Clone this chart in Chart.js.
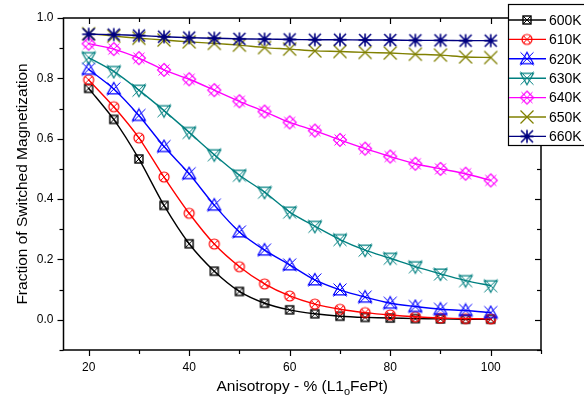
<!DOCTYPE html>
<html><head><meta charset="utf-8">
<script src="https://cdn.jsdelivr.net/npm/chart.js@4/dist/chart.umd.min.js"></script>
<style>html,body{margin:0;padding:0;background:#fff;}canvas{display:block;}</style>
</head><body>
<canvas id="c" width="584" height="405"></canvas>
<script>
const anisotropy = [20,25,30,35,40,45,50,55,60,65,70,75,80,85,90,95,100];
const s600K = [0.767,0.664,0.533,0.379,0.252,0.161,0.094,0.055,0.033,0.020,0.012,0.008,0.006,0.004,0.003,0.002,0.002];
const s610K = [0.795,0.706,0.603,0.473,0.353,0.251,0.176,0.119,0.079,0.052,0.035,0.024,0.016,0.010,0.006,0.004,0.003];
const s620K = [0.830,0.765,0.677,0.574,0.484,0.380,0.291,0.231,0.182,0.132,0.099,0.075,0.055,0.044,0.035,0.031,0.024];
const s630K = [0.869,0.823,0.761,0.693,0.621,0.547,0.479,0.423,0.357,0.310,0.266,0.231,0.204,0.176,0.152,0.130,0.113];
const s640K = [0.915,0.897,0.867,0.828,0.797,0.761,0.724,0.690,0.654,0.627,0.596,0.567,0.541,0.517,0.500,0.484,0.462];
const s650K = [0.948,0.940,0.933,0.927,0.921,0.916,0.910,0.902,0.897,0.891,0.889,0.886,0.884,0.880,0.877,0.871,0.869];
const s660K = [0.946,0.945,0.942,0.938,0.935,0.933,0.931,0.930,0.929,0.928,0.928,0.927,0.927,0.926,0.926,0.925,0.925];
const seriesLabels = ['600K','610K','620K','630K','640K','650K','660K'];
const seriesData = [s600K,s610K,s620K,s630K,s640K,s650K,s660K];
const xTicks = [20,30,40,50,60,70,80,90,100,110];
const yTicks = [-0.1,0,0.1,0.2,0.3,0.4,0.5,0.6,0.7,0.8,0.9,1.0];
const xTitleMain = 'Anisotropy - % (L1';
const xTitleSub = 'o';
const xTitleEnd = 'FePt)';
const yTitle = 'Fraction of Switched Magnetization';

const colors = ['#000000','#ff0000','#0000ff','#008080','#ff00ff','#808000','#000080'];
const shapes = ['squareX','circleX','triUpX','triDownX','diamondX','x','star'];
const FONT = '"Liberation Sans", Arial, Helvetica, sans-serif';

function makeMarker(shape, color){
  const S = 16, c = S/2;
  const cv = document.createElement('canvas');
  cv.width = S; cv.height = S;
  const g = cv.getContext('2d');
  g.strokeStyle = color; g.lineWidth = 1.2; g.lineJoin='miter';
  const line=(x1,y1,x2,y2)=>{g.beginPath();g.moveTo(x1,y1);g.lineTo(x2,y2);g.stroke();};
  if(shape==='squareX'){
    g.lineWidth=1.4;
    g.strokeRect(c-4,c-4,8,8);
    g.lineWidth=1;
    line(c-4,c-4,c+4,c+4); line(c+4,c-4,c-4,c+4);
  } else if(shape==='circleX'){
    g.beginPath(); g.arc(c,c,5,0,Math.PI*2); g.stroke();
    g.lineWidth=1;
    line(c-3.6,c-3.6,c+3.6,c+3.6); line(c+3.6,c-3.6,c-3.6,c+3.6);
  } else if(shape==='triUpX' || shape==='triDownX'){
    const h=6.5, d = shape==='triUpX'?1:-1;
    g.beginPath(); g.moveTo(c,c-d*h); g.lineTo(c+h,c+d*h*0.75); g.lineTo(c-h,c+d*h*0.75); g.closePath(); g.stroke();
    g.lineWidth=1;
    line(c-h,c-h,c+h,c+h); line(c+h,c-h,c-h,c+h);
  } else if(shape==='diamondX'){
    const h=6.5;
    g.beginPath(); g.moveTo(c,c-h); g.lineTo(c+h,c); g.lineTo(c,c+h); g.lineTo(c-h,c); g.closePath(); g.stroke();
    g.lineWidth=1;
    line(c-5.5,c-5.5,c+5.5,c+5.5); line(c+5.5,c-5.5,c-5.5,c+5.5);
  } else if(shape==='x'){
    g.lineWidth=1.3;
    line(c-6.5,c-6.5,c+6.5,c+6.5); line(c+6.5,c-6.5,c-6.5,c+6.5);
  } else if(shape==='star'){
    g.lineWidth=1.6;
    line(c-6,c-6,c+6,c+6); line(c+6,c-6,c-6,c+6);
    line(c,c-6.5,c,c+6.5); line(c-6.5,c,c+6.5,c);
    g.fillStyle=color; g.beginPath(); g.arc(c,c,2.5,0,Math.PI*2); g.fill();
  }
  return cv;
}
const markers = shapes.map((s,i)=>makeMarker(s,colors[i]));

const datasets = seriesLabels.map((lab,i)=>({
  label: lab,
  data: anisotropy.map((x,j)=>({x:x, y:seriesData[i][j]})),
  borderColor: colors[i],
  backgroundColor: colors[i],
  borderWidth: 1.4,
  pointStyle: markers[i],
  pointRadius: 6,
  tension: 0.25,
  order: 6-i,
  clip: false
}));

function isMajorX(v){return v%20===0 && v<=100;}
function isMajorY(v){const k=Math.round(v*10); return k>=0 && k%2===0;}

const framePlugin = {
  id:'frame',
  afterDatasetsDraw(chart){
    const ctx=chart.ctx, a=chart.chartArea, xs=chart.scales.x, ys=chart.scales.y;
    ctx.save();
    ctx.strokeStyle='#000'; ctx.lineWidth=1.5;
    ctx.strokeRect(a.left,a.top,a.right-a.left,a.bottom-a.top);
    ctx.lineWidth=1.2;
    xTicks.forEach(v=>{
      const px=Math.round(xs.getPixelForValue(v))+0.5;
      const L=isMajorX(v)?6:4;
      ctx.beginPath(); ctx.moveTo(px,a.bottom); ctx.lineTo(px,a.bottom+L); ctx.stroke();
      ctx.beginPath(); ctx.moveTo(px,a.top); ctx.lineTo(px,a.top+L); ctx.stroke();
    });
    yTicks.forEach(v=>{
      const py=Math.round(ys.getPixelForValue(v))+0.5;
      const L=isMajorY(v)?6:4;
      ctx.beginPath(); ctx.moveTo(a.left,py); ctx.lineTo(a.left-L,py); ctx.stroke();
      ctx.beginPath(); ctx.moveTo(a.right,py); ctx.lineTo(a.right-L,py); ctx.stroke();
    });
    ctx.restore();
  },
  afterDraw(chart){
    const ctx=chart.ctx, a=chart.chartArea;
    ctx.save();
    // legend
    const lx=508, ly=4, lh=141;
    ctx.fillStyle='#fff'; ctx.fillRect(lx,ly,100,lh);
    ctx.strokeStyle='#000'; ctx.lineWidth=1.2;
    ctx.strokeRect(lx+0.5,ly+0.5,100,lh);
    ctx.font='14px '+FONT; ctx.textBaseline='middle'; ctx.textAlign='left';
    seriesLabels.forEach((lab,i)=>{
      const y=20+i*19.4;
      ctx.strokeStyle=colors[i]; ctx.lineWidth=1.4;
      ctx.beginPath(); ctx.moveTo(lx+1,y); ctx.lineTo(546,y); ctx.stroke();
      const m=markers[i];
      ctx.drawImage(m,527-m.width/2,y-m.height/2);
      ctx.fillStyle='#000';
      ctx.fillText(lab,549,y+1);
    });
    // y title
    ctx.fillStyle='#000';
    ctx.font='15.5px '+FONT;
    ctx.save();
    ctx.translate(23,(a.top+a.bottom)/2);
    ctx.rotate(-Math.PI/2);
    ctx.textAlign='center'; ctx.textBaseline='middle';
    ctx.fillText(yTitle,0,0);
    ctx.restore();
    // x title with subscript
    ctx.textBaseline='alphabetic'; ctx.textAlign='left';
    ctx.font='15.5px '+FONT; const w1=ctx.measureText(xTitleMain).width, w3=ctx.measureText(xTitleEnd).width;
    ctx.font='11px '+FONT; const w2=ctx.measureText(xTitleSub).width;
    const cx=(a.left+a.right)/2, base=391;
    let x0=cx-(w1+w2+w3)/2;
    ctx.font='15.5px '+FONT; ctx.fillText(xTitleMain,x0,base);
    ctx.font='11px '+FONT; ctx.fillText(xTitleSub,x0+w1,base+4);
    ctx.font='15.5px '+FONT; ctx.fillText(xTitleEnd,x0+w1+w2,base);
    ctx.restore();
  }
};

new Chart(document.getElementById('c'),{
  type:'line',
  data:{datasets},
  options:{
    responsive:false, animation:false, devicePixelRatio:1,
    layout:{padding:{top:18,right:43,left:0,bottom:0}},
    plugins:{legend:{display:false},tooltip:{enabled:false},title:{display:false}},
    scales:{
      x:{type:'linear',min:15,max:110,
        afterBuildTicks:s=>{s.ticks=xTicks.map(v=>({value:v}));},
        afterFit:s=>{s.height=55;},
        ticks:{autoSkip:false,maxRotation:0,padding:4,color:'#000',font:{family:FONT,size:12},
          callback:v=>isMajorX(v)?String(v):''},
        grid:{color:'rgba(0,0,0,0)',drawOnChartArea:false,tickLength:6},
        border:{display:false}},
      y:{type:'linear',min:-0.1,max:1.0,
        afterBuildTicks:s=>{s.ticks=yTicks.map(v=>({value:v}));},
        afterFit:s=>{s.width=63.5;},
        ticks:{autoSkip:false,padding:4,color:'#000',font:{family:FONT,size:12},
          callback:v=>isMajorY(v)?v.toFixed(1):''},
        grid:{color:'rgba(0,0,0,0)',drawOnChartArea:false,tickLength:6},
        border:{display:false}}
    }
  },
  plugins:[framePlugin]
});
</script>
</body></html>
